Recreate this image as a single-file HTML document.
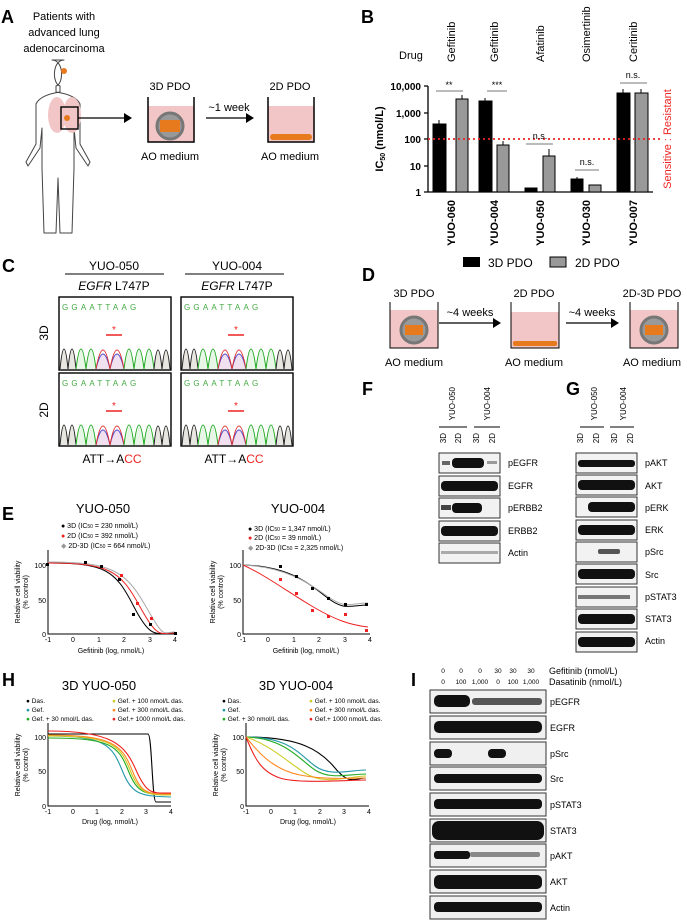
<!DOCTYPE html><html><head><style>body{margin:0;background:#fff}svg{display:block;font-family:"Liberation Sans",sans-serif}</style></head><body>
<svg width="687" height="920" viewBox="0 0 687 920">
<g font-weight="bold" font-size="18"><text x="1" y="23">A</text><text x="361" y="23">B</text><text x="2" y="272">C</text><text x="362" y="281">D</text><text x="2" y="520">E</text><text x="362" y="395">F</text><text x="566" y="395">G</text><text x="2" y="686">H</text><text x="411" y="686">I</text></g>
<!-- A -->
<g font-size="11" text-anchor="middle"><text x="64" y="20">Patients with</text><text x="64" y="36">advanced lung</text><text x="64" y="52">adenocarcinoma</text>
<text x="170" y="90">3D PDO</text><text x="290" y="90">2D PDO</text><text x="170" y="160">AO medium</text><text x="290" y="160">AO medium</text><text x="229" y="111">~1 week</text></g>
<path d="M64 60 c-12 0 -12 24 -4 26 v6 q-20 3 -24 12 v40 l-10 18 l2 4 l12-18 l2-20 v40 l2 65 h12 l2-55 2 55 h12 l2-65 v-40 l2 20 l12 18 l2-4 l-10-18 v-40 q-4-9 -24-12 v-6 c8-2 8-26 -4-26z" fill="#fff" stroke="#444" stroke-linejoin="round"/>
<ellipse cx="57" cy="115" rx="9" ry="18" fill="#f2c6c6"/><ellipse cx="72" cy="115" rx="9" ry="18" fill="#f2c6c6"/>
<rect x="61" y="107" width="17" height="22" fill="none" stroke="#000" stroke-width="1.4"/><circle cx="67" cy="118" r="3" fill="#e87a1e"/><circle cx="64" cy="71" r="3" fill="#e87a1e"/>
<path d="M78 118 H124" stroke="#000" stroke-width="1.3"/><path d="M124 113 l8 5 -8 5z"/>
<rect x="148" y="106" width="46" height="36" fill="#f2c6c6"/><path d="M148 97 V142 H194 V97" fill="none" stroke="#000" stroke-width="1.5"/><circle cx="170" cy="126" r="13" fill="#999" stroke="#777" stroke-width="3"/><rect x="160" y="120" width="20" height="12" fill="#e87a1e"/>
<path d="M206 118 H246" stroke="#000" stroke-width="1.3"/><path d="M246 113 l8 5 -8 5z"/>
<rect x="268" y="106" width="46" height="36" fill="#f2c6c6"/><path d="M268 97 V142 H314 V97" fill="none" stroke="#000" stroke-width="1.5"/><rect x="270" y="134" width="42" height="6" rx="3" fill="#e87a1e"/>
<!-- B -->
<g font-size="11"><text x="399" y="59">Drug</text>
<g transform="rotate(-90)"><text x="-62" y="455">Gefitinib</text><text x="-62" y="498">Gefitinib</text><text x="-62" y="544">Afatinib</text><text x="-62" y="590">Osimertinib</text><text x="-62" y="637">Ceritinib</text>
<g font-weight="bold" text-anchor="end"><text x="-200" y="455">YUO-060</text><text x="-200" y="498">YUO-004</text><text x="-200" y="544">YUO-050</text><text x="-200" y="590">YUO-030</text><text x="-200" y="637">YUO-007</text></g>
<text x="-139" y="383" font-weight="bold" text-anchor="middle">IC<tspan font-size="7" dy="2">50</tspan><tspan dy="-2"> (nmol/L)</tspan></text><text x="-139" y="671" fill="#e22" text-anchor="middle">Sensitive : Resistant</text></g></g>
<g font-size="10" font-weight="bold" text-anchor="end"><text x="421" y="90">10,000</text><text x="421" y="117">1,000</text><text x="421" y="143">100</text><text x="421" y="170">10</text><text x="421" y="196">1</text></g>
<path d="M428 86 V192 H653 M424 86 h4 M424 113 h4 M424 139 h4 M424 166 h4 M424 192 h4" stroke="#000" fill="none" stroke-width="1.3"/>
<g stroke="#000"><rect x="433" y="124" width="13" height="68"/><rect x="456" y="99" width="12" height="93" fill="#999"/><rect x="479" y="101" width="13" height="91"/><rect x="497" y="145" width="12" height="47" fill="#999"/><rect x="525" y="188" width="12" height="4"/><rect x="543" y="156" width="12" height="36" fill="#999"/><rect x="571" y="179" width="12" height="13"/><rect x="589" y="185" width="12" height="7" fill="#999"/><rect x="617" y="93" width="13" height="99"/><rect x="635" y="93" width="13" height="99" fill="#999"/></g>
<g stroke="#000"><path d="M439 124v-4 M462 99v-4 M485 101v-3 M503 145v-4 M549 156v-7 M577 179v-2 M623 93v-4 M641 93v-4"/></g>
<path d="M428 139 H662" stroke="#e22" stroke-width="1.8" stroke-dasharray="2 3"/>
<g stroke="#777"><path d="M436 91 h27 M487 91 h20 M526 144 h27 M575 170 h24 M620 83 h27"/></g>
<g font-size="9" text-anchor="middle"><text x="449" y="88">**</text><text x="497" y="88">***</text><text x="540" y="139">n.s.</text><text x="587" y="165">n.s.</text><text x="633" y="78">n.s.</text></g>
<rect x="463" y="257" width="17" height="10"/><rect x="550" y="257" width="16" height="10" fill="#999" stroke="#000"/><g font-size="12"><text x="488" y="267">3D PDO</text><text x="575" y="267">2D PDO</text></g>
<!-- C -->
<g font-size="12" text-anchor="middle"><text x="114" y="270">YUO-050</text><text x="237" y="270">YUO-004</text><text x="114" y="290"><tspan font-style="italic">EGFR</tspan> L747P</text><text x="237" y="290"><tspan font-style="italic">EGFR</tspan> L747P</text><text x="112" y="463">ATT→A<tspan fill="#e22">CC</tspan></text><text x="234" y="463">ATT→A<tspan fill="#e22">CC</tspan></text>
<text x="48" y="333" transform="rotate(-90 48 333)">3D</text><text x="48" y="410" transform="rotate(-90 48 410)">2D</text></g>
<path d="M65 274 h99 M185 274 h99" stroke="#000"/>
<g id="tr"><rect x="59" y="297" width="112" height="73" fill="#fff" stroke="#000" stroke-width="1.4"/><path d="M60 369 q4-40 8 0 q4-40 8 0" fill="#e8e6e0" stroke="#222"/><path d="M76 369 q5-40 10 0 q5-40 10 0" fill="#e8f6e8" stroke="#2a2"/><path d="M96 369 q7-30 14 0 q7-30 14 0" fill="#f0e0f0" stroke="#44c"/><path d="M96 369 q7-38 14 0 q7-38 14 0" fill="none" stroke="#d33"/><path d="M124 369 q5-40 10 0 q5-40 10 0 q5-40 10 0" fill="#e8f6e8" stroke="#2a2"/><path d="M154 369 q4-38 8 0 q4-38 8 0" fill="#e8e6e0" stroke="#222"/><path d="M106 335 h16" stroke="#e22" stroke-width="1.5"/><text x="114" y="333" fill="#e22" font-size="10" text-anchor="middle">*</text><text x="62" y="310" font-size="8" fill="#4a4" letter-spacing="3.2">GGAATTAAG</text></g>
<use href="#tr" x="122"/><use href="#tr" y="76"/><use href="#tr" x="122" y="76"/>
<!-- D -->
<g font-size="11" text-anchor="middle"><text x="414" y="297">3D PDO</text><text x="534" y="297">2D PDO</text><text x="652" y="297">2D-3D PDO</text><text x="414" y="366">AO medium</text><text x="534" y="366">AO medium</text><text x="652" y="366">AO medium</text><text x="470" y="316">~4 weeks</text><text x="592" y="316">~4 weeks</text></g>
<g><rect x="390" y="310" width="48" height="38" fill="#f2c6c6"/><path d="M390 302V348H438V302" fill="none" stroke="#000"/><circle cx="414" cy="330" r="13" fill="#999" stroke="#777" stroke-width="3"/><rect x="405" y="325" width="18" height="10" fill="#e87a1e"/>
<rect x="511" y="312" width="48" height="36" fill="#f2c6c6"/><path d="M511 302V348H559V302" fill="none" stroke="#000"/><rect x="513" y="341" width="44" height="5" rx="2" fill="#e87a1e"/>
<rect x="630" y="310" width="48" height="38" fill="#f2c6c6"/><path d="M630 302V348H678V302" fill="none" stroke="#000"/><circle cx="654" cy="330" r="13" fill="#999" stroke="#777" stroke-width="3"/><rect x="645" y="325" width="18" height="10" fill="#e87a1e"/>
<path d="M439 323h55 M566 323h46" stroke="#000" stroke-width="1.3"/><path d="M493 318l8 5-8 5z M611 318l8 5-8 5z"/></g>
<!-- F/G headers -->
<g font-size="8" transform="rotate(-90)"><g text-anchor="end"><text x="-433" y="446">3D</text><text x="-433" y="461">2D</text><text x="-433" y="479">3D</text><text x="-433" y="495">2D</text><text x="-387" y="455">YUO-050</text><text x="-387" y="490">YUO-004</text>
<text x="-433" y="583">3D</text><text x="-433" y="599">2D</text><text x="-433" y="617">3D</text><text x="-433" y="633">2D</text><text x="-387" y="597">YUO-050</text><text x="-387" y="626">YUO-004</text></g></g>
<path d="M439 427h28 M474 427h26 M580 427h24 M610 427h24" stroke="#000"/>
<g font-size="9"><text x="508" y="466">pEGFR</text><text x="508" y="489">EGFR</text><text x="508" y="511">pERBB2</text><text x="508" y="534">ERBB2</text><text x="508" y="556">Actin</text>
<text x="645" y="466">pAKT</text><text x="645" y="489">AKT</text><text x="645" y="511">pERK</text><text x="645" y="533">ERK</text><text x="645" y="555">pSrc</text><text x="645" y="578">Src</text><text x="645" y="600">pSTAT3</text><text x="645" y="622">STAT3</text><text x="645" y="644">Actin</text></g>
<g fill="#f2f2f2" stroke="#333"><rect x="439" y="453" width="61" height="20"/><rect x="439" y="476" width="61" height="20"/><rect x="439" y="498" width="61" height="20"/><rect x="439" y="521" width="61" height="20"/><rect x="439" y="543" width="61" height="20"/></g>
<g fill="#111"><rect x="442" y="461" width="8" height="4" fill="#666"/><rect x="452" y="458" width="32" height="10" rx="4"/><rect x="487" y="461" width="10" height="3" fill="#999"/><rect x="441" y="481" width="57" height="10" rx="4"/><rect x="441" y="505" width="10" height="5" fill="#444"/><rect x="452" y="503" width="30" height="10" rx="4"/><rect x="441" y="526" width="57" height="10" rx="4"/><rect x="441" y="551" width="57" height="3" fill="#aaa"/></g>
<g fill="#f2f2f2" stroke="#333"><rect x="576" y="453" width="61" height="20"/><rect x="576" y="475" width="61" height="20"/><rect x="576" y="497" width="61" height="20"/><rect x="576" y="520" width="61" height="20"/><rect x="576" y="542" width="61" height="20"/><rect x="576" y="564" width="61" height="20"/><rect x="576" y="587" width="61" height="20"/><rect x="576" y="609" width="61" height="20"/><rect x="576" y="632" width="61" height="20"/></g>
<g fill="#111"><rect x="578" y="460" width="57" height="7" rx="3"/><rect x="578" y="480" width="57" height="10" rx="4"/><rect x="588" y="502" width="47" height="10" rx="4"/><rect x="578" y="525" width="57" height="10" rx="4"/><rect x="598" y="549" width="22" height="5" rx="2" fill="#555"/><rect x="578" y="569" width="57" height="10" rx="4"/><rect x="578" y="595" width="52" height="4" fill="#777"/><rect x="578" y="614" width="57" height="10" rx="4"/><rect x="578" y="637" width="57" height="10" rx="4"/></g>
<!-- E -->
<g font-size="13" text-anchor="middle"><text x="103" y="513">YUO-050</text><text x="298" y="513">YUO-004</text><text x="99" y="690">3D YUO-050</text><text x="296" y="690">3D YUO-004</text></g>
<g font-size="7"><text x="61" y="528">● 3D (IC<tspan font-size="5">50</tspan> = 230 nmol/L)</text><text x="61" y="538"><tspan fill="#e22">●</tspan> 2D (IC<tspan font-size="5">50</tspan> = 392 nmol/L)</text><text x="61" y="548"><tspan fill="#999">◆</tspan> 2D-3D (IC<tspan font-size="5">50</tspan> = 664 nmol/L)</text>
<text x="248" y="531">● 3D (IC<tspan font-size="5">50</tspan> = 1,347 nmol/L)</text><text x="248" y="540"><tspan fill="#e22">●</tspan> 2D (IC<tspan font-size="5">50</tspan> = 39 nmol/L)</text><text x="248" y="550"><tspan fill="#999">◆</tspan> 2D-3D (IC<tspan font-size="5">50</tspan> = 2,325 nmol/L)</text></g>
<g id="ax" font-size="7" text-anchor="middle"><path d="M48 550V634H175" fill="none" stroke="#000"/><text x="48" y="642">-1</text><text x="73" y="642">0</text><text x="99" y="642">1</text><text x="124" y="642">2</text><text x="150" y="642">3</text><text x="175" y="642">4</text><text x="46" y="568" text-anchor="end">100</text><text x="46" y="603" text-anchor="end">50</text><text x="46" y="637" text-anchor="end">0</text>
<text x="111" y="653">Gefitinib (log, nmol/L)</text><text x="20" y="592" transform="rotate(-90 20 592)">Relative cell viability</text><text x="28" y="592" transform="rotate(-90 28 592)">(% control)</text></g>
<use href="#ax" x="195"/>
<g fill="none"><path d="M48 563 C105 563 115 570 133 605 S155 633 175 633" stroke="#000"/><path d="M48 563 C108 563 120 570 139 605 S160 633 175 633" stroke="#e22"/><path d="M48 562 C110 562 125 570 145 605 S162 632 175 632" stroke="#aaa"/>
<path d="M243 565 C285 566 305 580 325 596 S350 605 368 605" stroke="#000"/><path d="M243 565 C285 567 307 582 327 596 S350 603 368 603" stroke="#aaa"/><path d="M243 565 C265 575 285 590 310 605 S350 625 368 627" stroke="#e22"/></g>
<g fill="#000"><rect x="46" y="563" width="3" height="3"/><rect x="84" y="561" width="3" height="3"/><rect x="100" y="565" width="3" height="3"/><rect x="118" y="578" width="3" height="3"/><rect x="132" y="613" width="3" height="3"/><rect x="149" y="623" width="3" height="3"/><rect x="174" y="632" width="3" height="3"/>
<rect x="279" y="565" width="3" height="3"/><rect x="295" y="575" width="3" height="3"/><rect x="311" y="587" width="3" height="3"/><rect x="327" y="597" width="3" height="3"/><rect x="344" y="603" width="3" height="3"/><rect x="365" y="603" width="3" height="3"/></g>
<g fill="#e22"><rect x="120" y="574" width="3" height="3"/><rect x="136" y="602" width="3" height="3"/><rect x="150" y="617" width="3" height="3"/><rect x="279" y="578" width="3" height="3"/><rect x="295" y="592" width="3" height="3"/><rect x="311" y="609" width="3" height="3"/><rect x="327" y="615" width="3" height="3"/><rect x="344" y="613" width="3" height="3"/><rect x="365" y="629" width="3" height="3"/></g>
<!-- H -->
<g font-size="6.5"><text x="26" y="703">● Das.</text><text x="26" y="712"><tspan fill="#29a">●</tspan> Gef.</text><text x="26" y="721"><tspan fill="#2a2">●</tspan> Gef. + 30 nmol/L das.</text><text x="112" y="703"><tspan fill="#cc2">●</tspan> Gef. + 100 nmol/L das.</text><text x="112" y="712"><tspan fill="#f82">●</tspan> Gef. + 300 nmol/L das.</text><text x="112" y="721"><tspan fill="#e22">●</tspan> Gef.+ 1000 nmol/L das.</text>
<text x="222" y="703">● Das.</text><text x="222" y="712"><tspan fill="#29a">●</tspan> Gef.</text><text x="222" y="721"><tspan fill="#2a2">●</tspan> Gef. + 30 nmol/L das.</text><text x="309" y="703"><tspan fill="#cc2">●</tspan> Gef. + 100 nmol/L das.</text><text x="309" y="712"><tspan fill="#f82">●</tspan> Gef. + 300 nmol/L das.</text><text x="309" y="721"><tspan fill="#e22">●</tspan> Gef.+ 1000 nmol/L das.</text></g>
<g id="ax2" font-size="7" text-anchor="middle"><path d="M48 723V806H171" fill="none" stroke="#000"/><text x="48" y="814">-1</text><text x="73" y="814">0</text><text x="97" y="814">1</text><text x="122" y="814">2</text><text x="146" y="814">3</text><text x="171" y="814">4</text><text x="46" y="740" text-anchor="end">100</text><text x="46" y="774" text-anchor="end">50</text><text x="46" y="809" text-anchor="end">0</text>
<text x="110" y="824">Drug (log, nmol/L)</text><text x="20" y="765" transform="rotate(-90 20 765)">Relative cell viability</text><text x="28" y="765" transform="rotate(-90 28 765)">(% control)</text></g>
<use href="#ax2" x="198"/>
<g fill="none" stroke-width="1.1"><path d="M48 734H148 C152 734 152 802 156 802H171" stroke="#000"/><path d="M48 736C105 736 112 745 122 770S140 796 171 797" stroke="#29a"/><path d="M48 738C110 738 118 745 128 770S145 794 171 795" stroke="#2a2"/><path d="M48 736C112 736 120 745 130 770S148 795 171 795" stroke="#cc2"/><path d="M48 735C113 735 122 745 132 770S148 794 171 794" stroke="#f82"/><path d="M48 731C113 731 125 745 136 770S152 793 171 793" stroke="#e22"/>
<path d="M246 737C300 737 320 750 335 768S355 778 366 778" stroke="#000"/><path d="M246 737C290 737 300 755 315 766S350 770 366 770" stroke="#29a"/><path d="M246 737C285 738 300 760 315 770S350 774 366 774" stroke="#2a2"/><path d="M246 737C270 745 285 760 305 773S350 776 366 776" stroke="#cc2"/><path d="M246 737C260 755 275 770 300 775S350 778 366 778" stroke="#f82"/><path d="M246 737C255 760 262 772 280 778S350 780 366 780" stroke="#e22"/></g>
<!-- I -->
<g font-size="6.5" text-anchor="middle"><text x="443" y="673">0</text><text x="461" y="673">0</text><text x="480" y="673">0</text><text x="498" y="673">30</text><text x="513" y="673">30</text><text x="531" y="673">30</text><text x="443" y="684">0</text><text x="461" y="684">100</text><text x="480" y="684">1,000</text><text x="498" y="684">0</text><text x="513" y="684">100</text><text x="531" y="684">1,000</text></g>
<g font-size="9"><text x="549" y="674">Gefitinib (nmol/L)</text><text x="549" y="685">Dasatinib (nmol/L)</text>
<text x="550" y="705">pEGFR</text><text x="550" y="731">EGFR</text><text x="550" y="757">pSrc</text><text x="550" y="782">Src</text><text x="550" y="808">pSTAT3</text><text x="550" y="834">STAT3</text><text x="550" y="859">pAKT</text><text x="550" y="885">AKT</text><text x="550" y="911">Actin</text></g>
<g fill="#f0f0f0" stroke="#333"><rect x="430" y="690" width="116" height="23"/><rect x="430" y="716" width="116" height="23"/><rect x="430" y="742" width="116" height="23"/><rect x="430" y="767" width="116" height="23"/><rect x="430" y="793" width="116" height="23"/><rect x="430" y="819" width="116" height="23"/><rect x="430" y="844" width="116" height="23"/><rect x="430" y="870" width="116" height="23"/><rect x="430" y="896" width="116" height="23"/></g>
<g fill="#111"><rect x="434" y="695" width="36" height="12" rx="5"/><rect x="472" y="698" width="70" height="7" rx="3" fill="#555"/><rect x="434" y="721" width="108" height="12" rx="5"/><rect x="434" y="749" width="18" height="9" rx="4"/><rect x="488" y="749" width="18" height="9" rx="4"/><rect x="434" y="774" width="108" height="9" rx="4"/><rect x="434" y="799" width="108" height="10" rx="4"/><rect x="432" y="821" width="112" height="19" rx="7"/><rect x="434" y="851" width="36" height="8" rx="3"/><rect x="470" y="852" width="70" height="5" rx="2" fill="#888"/><rect x="434" y="875" width="108" height="14" rx="5"/><rect x="434" y="902" width="108" height="10" rx="4"/></g>
</svg></body></html>
